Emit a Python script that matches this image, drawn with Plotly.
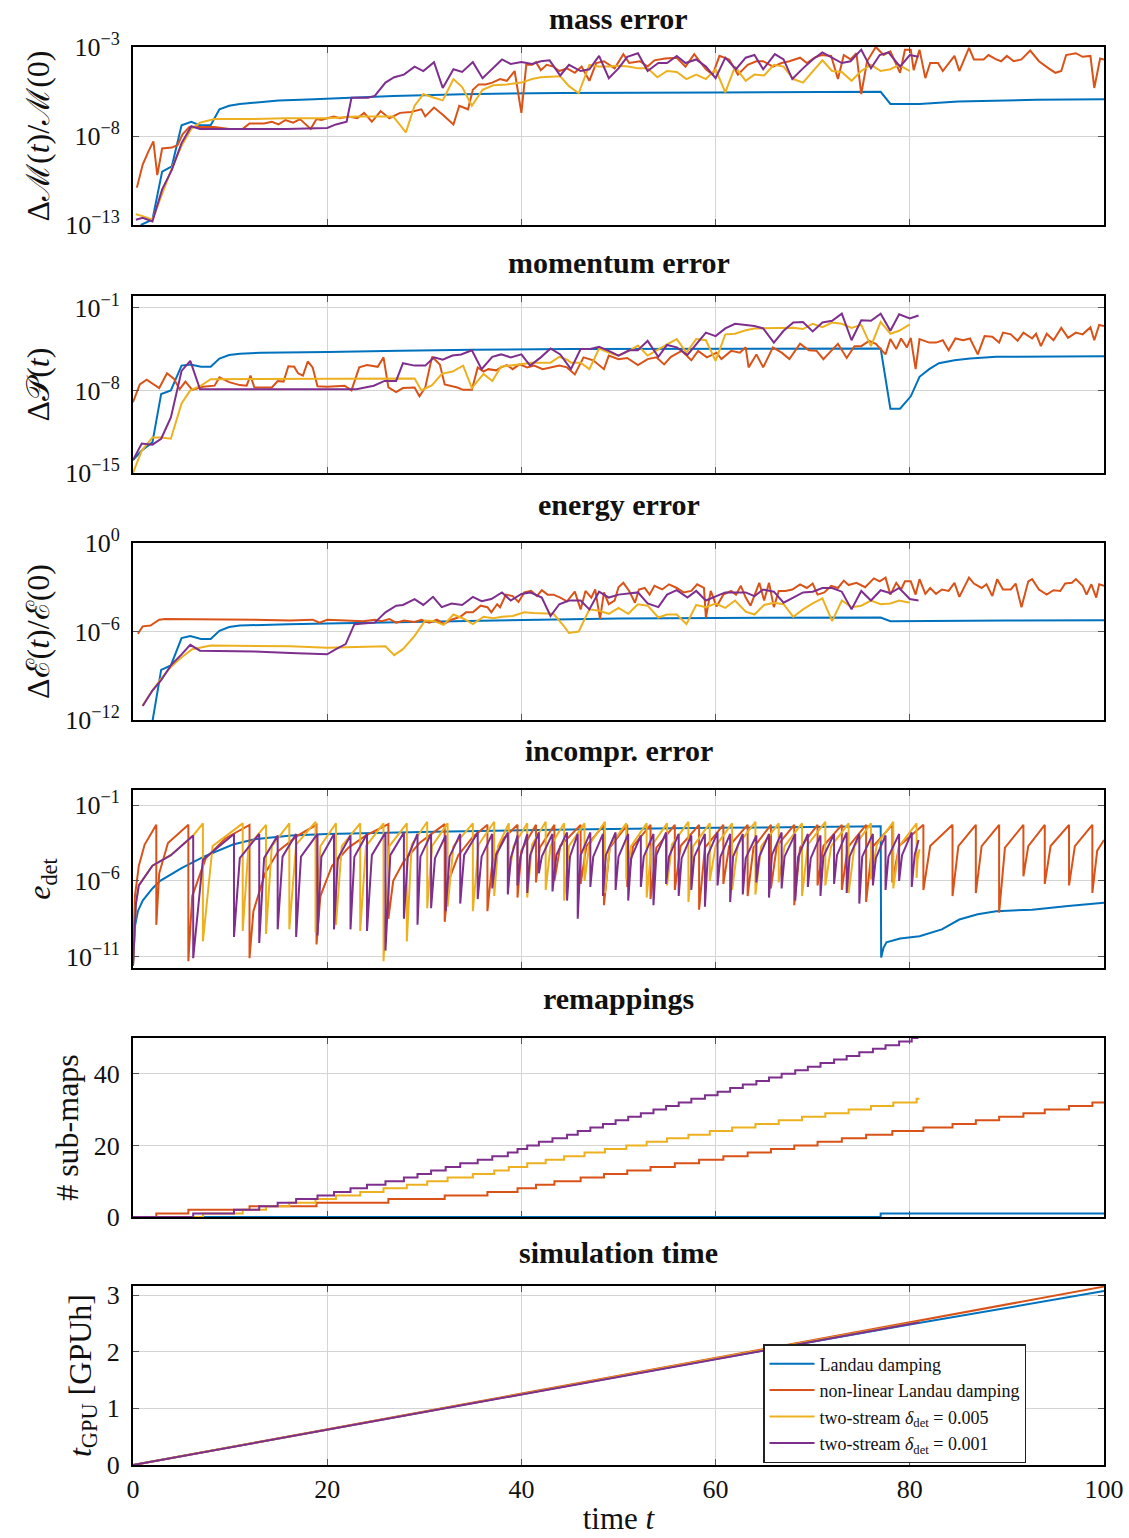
import plotly.graph_objects as go

BLUE = "#0072BD"
ORANGE = "#D95319"
YELLOW = "#EDB120"
PURPLE = "#7E2F8E"
COLORS = [BLUE, ORANGE, YELLOW, PURPLE]
NAMES = ["Landau damping", "non-linear Landau damping",
         "two-stream <i>δ</i><sub>det</sub> = 0.005",
         "two-stream <i>δ</i><sub>det</sub> = 0.001"]

FONT = "Liberation Serif"

# ---------------- mass error: (time, log10 value) ----------------
mass_blue = [(0.8,-13),(2,-12.7),(3,-10),(4,-9.7),(5,-7.4),(6,-7.2),(6.9,-7.4),(8,-7.4),(8.9,-6.5),(9.9,-6.3),
             (11,-6.2),(12.8,-6.1),(15,-6.0),(18,-5.95),(20,-5.9),(23,-5.85),(26.8,-5.75),(34,-5.65),(44,-5.58),
             (60,-5.55),(77,-5.52),(78,-6.2),(81,-6.2),(85,-6.06),(89,-6.0),(93,-5.97),(100,-5.93)]
mass_orange = [(0.4,-10.9),(1,-9.6),(1.6,-8.85),(2.1,-8.3),(2.5,-10.2),(3,-8.7),(4,-8.65),(4.6,-8.5),(5.1,-7.9),
               (5.8,-7.5),(6.9,-7.5),(8.4,-7.5),(9.9,-7.6),(11.3,-7.6),(12,-7.3),(13.5,-7.3),(14.3,-7.2),(15,-7.35),
               (15.7,-7.1),(16.5,-7.25),(17.2,-7.05),(18.3,-7.6),(18.9,-7.05),(19.4,-7.1),(20,-7.0),(20.7,-6.9),
               (21.3,-7.0),(22.2,-6.9),(23.1,-7.0),(23.8,-6.7),(24.6,-7.2),(25.5,-6.6),(26.4,-7.0),(27.5,-6.7),
               (28.6,-6.65),(29.7,-6.5),(30.1,-6.9),(31,-6.4),(31.9,-6.8),(33,-7.35),(33.6,-6.3),(34.5,-6.5),
               (35,-5.4),(35.6,-5.1),(36.3,-5.1),(37,-5.0),(37.8,-4.8),(38.5,-4.9),(39.3,-4.35),(40,-6.7),
               (40.5,-4.0),(41.1,-4.0),(41.5,-3.85),(42,-4.3),(42.6,-4.0),(43.3,-4.1),(43.9,-4.35),(44.7,-4.2),
               (45.5,-4.45),(46.2,-4.1),(47,-4.9),(47.7,-3.9),(48.5,-3.8),(49.6,-4.2),(50.5,-3.4),(51.1,-3.9),
               (52.2,-3.8),(53,-4.1),(53.7,-3.75),(54.8,-3.65),(56,-3.6),(56.9,-4.1),(57.8,-3.4),(59,-4.25),
               (59.7,-4.55),(60.4,-3.5),(61.4,-3.7),(62.3,-4.55),(63.3,-4.0),(64.2,-3.8),(64.9,-3.8),(65.9,-4.1),
               (66.8,-3.9),(67.6,-3.8),(68.7,-3.6),(69.4,-3.9),(70.2,-3.6),(70.9,-3.45),(71.9,-3.5),(72.6,-4.8),
               (73.2,-3.45),(73.9,-3.7),(74.5,-3.35),(75,-5.65),(75.6,-3.8),(76.5,-3.0),(77.3,-3.45),(78,-3.25),
               (79,-4.45),(79.5,-3.15),(80.1,-3.15),(80.4,-4.3),(81,-3.15),(81.6,-4.75),(82.1,-3.9),(82.9,-3.9),
               (83.4,-4.35),(84.6,-3.5),(85.1,-4.35),(86.1,-3.05),(86.6,-3.7),(87.6,-3.7),(88.1,-3.45),(88.9,-3.7),
               (89.4,-3.8),(90,-3.5),(90.7,-3.8),(91.5,-3.7),(92.4,-3.2),(93.3,-3.8),(94.3,-4.2),(95,-4.45),
               (95.6,-4.35),(96.1,-3.45),(97.1,-3.35),(97.8,-3.55),(98.6,-3.5),(99,-5.3),(99.6,-3.65),(100,-3.7)]
mass_yellow = [(0.3,-12.4),(1,-12.5),(2,-12.7),(3,-11.2),(4,-9.8),(5,-8.55),(6,-7.6),(6.9,-7.25),(8.4,-7.05),
               (12,-7.05),(15.7,-7.0),(20,-7.0),(23.1,-6.9),(26.8,-6.9),(28.1,-7.8),(29,-6.3),(29.9,-5.65),
               (31,-5.85),(31.9,-6.0),(33,-4.8),(33.9,-5.25),(34.9,-6.3),(36,-5.4),(37.1,-5.15),(38.5,-5.1),
               (40,-5.0),(41.1,-4.8),(42,-4.7),(43.1,-4.65),(44,-4.65),(44.9,-5.2),(45.9,-5.6),(47,-4.0),
               (47.9,-4.1),(49,-4.1),(50,-4.05),(51,-4.1),(52,-4.2),(53,-4.2),(54,-4.7),(55,-4.35),(56,-4.4),
               (57,-4.8),(58,-4.55),(59,-4.8),(60,-4.25),(61,-5.55),(62,-4.1),(63.1,-4.9),(64,-4.55),(65,-4.6),
               (66,-4.0),(67,-4.1),(68,-4.8),(69,-5.0),(70,-4.35),(71,-3.75),(72,-4.35),(73,-4.4),(74,-4.9),
               (75,-4.35),(76,-4.0),(77,-4.35),(78,-4.25),(78.9,-4.0),(80,-4.35)]
mass_purple = [(0.3,-12.7),(1,-12.6),(2,-12.8),(3,-11.0),(4,-9.9),(5,-8.4),(6,-7.45),(6.9,-7.6),(8.4,-7.6),
               (12,-7.6),(15.7,-7.6),(20,-7.55),(20.9,-7.35),(22,-7.2),(22.5,-5.85),(24.2,-5.85),(24.9,-5.75),
               (26,-5.0),(26.9,-4.7),(27.9,-4.55),(29,-4.1),(29.9,-4.35),(31,-3.85),(31.9,-5.3),(33,-4.25),
               (33.9,-4.4),(35,-3.85),(36,-4.75),(37.1,-4.2),(38,-3.7),(38.9,-3.95),(40,-3.85),(41.1,-3.95),
               (42,-3.8),(42.9,-3.75),(44,-4.6),(44.9,-4.0),(46.1,-4.35),(47,-4.25),(48,-3.5),(49,-4.75),
               (50,-4.2),(50.9,-3.55),(52,-3.35),(53,-4.35),(54.1,-3.9),(55,-3.9),(56,-3.5),(56.9,-3.9),(58,-3.7),
               (59,-4.1),(60,-4.75),(61,-3.6),(62.1,-4.25),(63.1,-3.6),(64,-3.45),(64.9,-4.25),(66.1,-3.4),
               (67,-3.7),(67.9,-4.8),(69,-4.2),(70,-3.7),(71,-3.3),(72,-3.6),(73,-3.9),(73.9,-3.8),(75,-3.15),
               (76,-4.2),(76.9,-3.45),(77.8,-3.3),(79,-4.1),(80,-3.45),(80.9,-3.55)]

# ---------------- momentum error ----------------
mom_blue = [(0,-13.9),(0.9,-13.1),(2,-12.4),(2.9,-8.3),(3.9,-8.0),(5,-5.9),(5.9,-5.8),(7,-6.0),(8,-6.0),(8.9,-5.3),
            (9.9,-5.0),(11,-4.9),(13.2,-4.8),(16.2,-4.75),(20,-4.75),(27.5,-4.65),(35,-4.55),(45,-4.5),(60,-4.5),
            (77,-4.45),(78,-9.55),(79,-9.55),(80.1,-8.5),(81,-6.85),(82,-6.2),(83,-5.7),(84.6,-5.45),(86.2,-5.3),
            (88.9,-5.15),(92.6,-5.12),(100,-5.1)]
mom_orange = [(0,-9.0),(0.7,-7.5),(1.4,-7.1),(2.2,-7.5),(2.7,-7.8),(3.5,-6.55),(4.2,-7.0),(4.8,-7.9),(5.4,-7.25),
              (6.1,-7.95),(7.2,-7.7),(8.4,-7.6),(8.9,-6.9),(9.9,-7.3),(11,-7.55),(11.7,-7.6),(12.1,-6.75),
              (12.5,-7.75),(13.2,-7.75),(14.3,-7.75),(14.9,-7.2),(15.5,-7.25),(16,-5.95),(16.6,-6.0),(17,-6.55),
              (17.5,-6.75),(18,-5.55),(18.5,-6.05),(19,-7.65),(20,-7.7),(21.8,-7.6),(22.5,-8.0),(23.3,-6.05),
              (24.1,-5.85),(25.2,-6.0),(25.8,-5.2),(26.3,-7.75),(27.1,-8.15),(27.8,-7.8),(29,-7.75),(29.5,-8.5),
              (30.1,-7.75),(30.8,-5.15),(31.6,-5.8),(32.1,-7.5),(32.7,-7.6),(33.4,-7.75),(34,-7.95),(34.9,-7.95),
              (35.5,-6.05),(36.1,-6.4),(36.6,-6.2),(37.4,-6.3),(37.9,-6.05),(38.5,-5.85),(39.1,-6.2),(39.8,-5.8),
              (40.6,-6.05),(41.3,-5.9),(42.2,-6.2),(43,-6.05),(43.9,-5.9),(44.7,-6.05),(45.5,-6.65),(46.4,-5.2),
              (47.4,-5.45),(48.5,-6.2),(49,-5.05),(50,-5.35),(50.9,-5.25),(52,-5.85),(53,-5.35),(53.9,-5.2),
              (54.7,-5.8),(55.4,-5.15),(56.5,-4.65),(57.5,-5.45),(58.2,-4.65),(59.1,-5.2),(60.1,-4.8),(60.6,-5.35),
              (61.6,-4.65),(62.5,-4.8),(63.1,-4.35),(63.4,-6.05),(64.2,-4.95),(64.9,-6.05),(65.9,-4.35),(66.8,-4.8),
              (67.6,-5.35),(68.7,-4.05),(69.6,-4.6),(70.4,-4.65),(71.1,-5.35),(71.9,-4.65),(72.6,-4.05),
              (73.5,-5.25),(74.3,-4.25),(75,-4.25),(75.8,-3.8),(76.5,-4.05),(77.5,-4.95),(78,-3.65),(78.6,-4.5),
              (79.1,-3.6),(79.7,-4.35),(80.1,-3.55),(80.6,-6.2),(81,-3.65),(82,-3.95),(82.7,-3.95),(83.4,-3.75),
              (84,-4.6),(84.7,-3.6),(85.5,-3.75),(86.2,-3.6),(87,-4.95),(87.7,-3.4),(88.5,-3.45),(89.2,-3.95),
              (89.6,-3.1),(90.4,-3.25),(91.1,-3.8),(91.7,-3.1),(92.6,-3.6),(93,-3.2),(93.5,-4.25),(94.1,-3.2),
              (94.8,-3.75),(95.6,-2.7),(96.3,-3.55),(97.1,-3.1),(97.8,-3.25),(98.6,-2.65),(99,-3.75),(99.5,-2.45),
              (100,-2.55)]
mom_yellow = [(0,-15),(0.9,-13.1),(2,-12.0),(2.9,-12.0),(3.9,-12.1),(5,-9.1),(5.9,-8.0),(7,-7.6),(8,-7.05),
              (10.6,-7.05),(16.2,-7.05),(23.7,-7.05),(29,-7.0),(29.7,-8.0),(30.8,-7.55),(31.8,-6.6),(32.9,-6.4),
              (34,-5.9),(34.9,-7.8),(36.1,-6.6),(37,-7.2),(37.9,-6.0),(39.1,-5.85),(40.2,-5.7),(41.1,-5.65),
              (42,-5.65),(43,-5.65),(43.9,-5.15),(44.7,-5.4),(45.1,-5.65),(46.1,-5.65),(47,-6.2),(48,-4.45),
              (49,-4.8),(50,-5.05),(51.1,-4.65),(52,-4.2),(53,-5.05),(54.1,-4.5),(55,-4.1),(56,-3.65),(57,-4.8),
              (58,-3.65),(59,-3.75),(60,-5.5),(61,-3.25),(62,-3.2),(63.1,-2.9),(64,-2.75),(65,-2.75),(66,-2.75),
              (67,-2.7),(68,-2.7),(69,-2.8),(70,-2.35),(71,-2.65),(72,-2.25),(73,-2.35),(74,-2.7),(75,-2.45),
              (76,-4.25),(77,-2.2),(78,-3.2),(78.9,-2.95),(80,-2.4)]
mom_purple = [(0,-13.9),(0.9,-12.5),(2,-12.6),(2.9,-12.1),(3.9,-10.3),(5,-6.35),(5.9,-5.5),(6.9,-7.9),(8.7,-7.9),
              (20,-7.9),(23,-7.9),(24.8,-7.6),(25.9,-7.2),(27.1,-7.2),(27.8,-5.7),(29,-5.9),(30.1,-5.9),(31,-5.2),
              (31.9,-5.4),(32.9,-5.05),(33.8,-4.95),(34.9,-4.6),(35.9,-6.2),(37,-5.15),(37.9,-4.95),(38.9,-5.2),
              (40,-4.95),(40.9,-5.9),(42,-5.2),(43,-4.45),(44,-4.95),(45.1,-6.2),(46.1,-4.5),(47,-4.5),(48,-4.3),
              (49,-4.65),(50,-5.05),(51.1,-4.6),(52,-4.6),(53,-3.8),(54.1,-5.15),(55,-4.15),(56,-4.35),(57.1,-5.0),
              (58,-4.1),(59,-3.1),(60,-3.4),(61,-2.75),(62,-2.35),(63.1,-2.45),(64,-2.55),(64.9,-2.75),(66,-3.95),
              (67,-2.95),(68,-2.25),(69,-2.2),(70,-3.0),(71,-2.25),(72,-2.1),(73,-1.5),(74,-3.75),(75,-2.05),
              (76,-2.1),(77,-1.5),(78,-2.95),(78.9,-1.55),(80,-1.9),(80.9,-1.65)]

# ---------------- energy error ----------------
en_blue = [(0.5,-12.2),(2,-12.1),(2.9,-8.6),(3.9,-8.3),(5,-6.45),(5.9,-6.3),(7,-6.5),(8,-6.5),(8.9,-5.95),
           (9.9,-5.7),(11,-5.6),(13,-5.55),(16,-5.5),(20,-5.45),(25,-5.4),(30,-5.35),(40,-5.2),(50,-5.12),
           (60,-5.08),(77,-5.05),(78,-5.3),(80,-5.3),(90,-5.25),(100,-5.23)]
en_orange = [(0.5,-6.15),(1,-5.65),(1.8,-5.6),(2.7,-5.2),(3.3,-5.15),(5,-5.15),(8.7,-5.2),(12.5,-5.2),(16.2,-5.25),
             (18.5,-5.2),(19.2,-5.4),(20,-5.2),(21.9,-5.25),(23.7,-5.3),(24.9,-5.2),(25.6,-5.3),(26.4,-5.15),
             (27.1,-5.4),(27.9,-5.25),(29,-5.35),(29.7,-5.2),(30.5,-5.4),(31.3,-5.2),(32,-5.5),(32.8,-5.2),
             (33.7,-5.0),(34.3,-4.7),(35,-4.7),(35.8,-4.25),(36.5,-4.35),(36.9,-4.7),(37.5,-4.15),(37.8,-4.35),
             (38.4,-3.5),(39.1,-3.6),(39.7,-4.0),(40.3,-3.35),(41,-3.25),(41.6,-3.6),(42.1,-3.2),(42.7,-3.5),
             (43.3,-3.5),(44,-3.7),(44.7,-3.95),(45.5,-3.3),(46.1,-4.5),(46.6,-3.25),(47.2,-3.7),(47.6,-3.15),
             (48.1,-5.15),(48.5,-3.35),(49,-4.15),(49.6,-3.9),(50,-3.0),(50.5,-2.7),(51.1,-3.25),(51.7,-4.05),
             (52.1,-3.15),(52.7,-3.05),(53.2,-3.5),(53.7,-2.9),(54.5,-3.15),(55.2,-2.8),(56,-3.05),(56.7,-3.35),
             (57.5,-3.25),(58.1,-2.8),(58.8,-3.05),(59,-5.05),(59.5,-3.25),(60.1,-4.3),(60.8,-3.5),(61.6,-3.25),
             (62.1,-3.5),(62.6,-2.9),(63.1,-3.7),(63.6,-4.25),(64,-3.6),(64.5,-2.7),(65,-3.9),(65.5,-2.7),
             (66,-4.35),(66.5,-3.25),(67.2,-3.25),(67.9,-3.15),(68.7,-2.8),(69.4,-3.05),(70,-2.75),(70.5,-3.5),
             (71.2,-3.35),(71.9,-2.9),(72.6,-3.05),(73.2,-2.55),(73.7,-2.85),(74.5,-2.7),(75.4,-3.0),(76.3,-2.4),
             (76.9,-2.6),(77.5,-2.35),(78,-3.5),(78.6,-2.7),(79.1,-3.15),(79.5,-2.6),(80.1,-2.6),(80.6,-3.5),
             (81,-2.45),(81.6,-3.45),(82.1,-3.05),(82.7,-3.45),(83.3,-3.15),(84,-3.25),(84.6,-2.7),(85.1,-3.65),
             (86.1,-2.35),(86.6,-2.75),(87.4,-3.05),(87.9,-2.8),(88.5,-3.6),(89,-2.45),(89.6,-3.15),(90.4,-3.15),
             (90.9,-2.75),(91.5,-4.35),(92.2,-2.6),(92.6,-2.45),(93.3,-3.15),(94.1,-3.5),(94.8,-3.2),(95.5,-3.25),
             (96,-2.75),(96.7,-2.7),(97.1,-2.45),(97.8,-2.9),(98.2,-3.5),(98.7,-2.8),(99.2,-3.7),(99.5,-2.8),
             (100,-2.9)]
en_yellow = [(1,-11.0),(2,-10.0),(2.9,-9.2),(3.9,-8.4),(5,-7.75),(6.1,-7.2),(8,-6.95),(12.5,-6.95),(16.2,-7.0),
             (20,-7.1),(23.7,-7.05),(26,-7.0),(26.9,-7.6),(27.8,-7.2),(29,-6.3),(30.1,-5.25),(31,-5.3),(32,-5.55),
             (33,-4.85),(34.1,-5.15),(35,-5.5),(36.1,-5.0),(37.1,-5.1),(38,-5.0),(39.1,-4.95),(40.3,-4.7),
             (41.2,-4.75),(42.3,-4.8),(43.3,-4.8),(44.4,-5.65),(44.9,-6.1),(45.9,-6.0),(47,-4.5),(48,-4.6),
             (49,-4.8),(50,-4.4),(51,-4.8),(52,-4.15),(53,-4.25),(54.1,-5.05),(55,-4.85),(56,-4.85),(57,-5.5),
             (58,-4.2),(59,-4.35),(60,-4.1),(61,-4.4),(62,-3.9),(63.1,-4.65),(64,-4.85),(65,-4.2),(66,-4.05),
             (67,-4.15),(68,-5.0),(69,-4.5),(70,-4.1),(71,-3.75),(72,-5.3),(73,-3.9),(74,-4.35),(75,-4.25),
             (76,-3.9),(77,-4.15),(78,-4.1),(78.9,-3.9),(80,-4.05)]
en_purple = [(1,-11.05),(2,-10.0),(2.9,-9.3),(3.9,-8.3),(5,-7.55),(5.9,-6.9),(6.9,-7.3),(8.7,-7.3),(12.5,-7.35),
             (16.2,-7.45),(20,-7.55),(20.9,-7.2),(21.9,-6.85),(22.8,-5.5),(24.9,-5.4),(26,-4.7),(27.1,-4.25),
             (27.8,-4.2),(29,-3.8),(29.9,-4.2),(30.9,-3.65),(31.8,-4.35),(32.8,-4.1),(33.9,-4.2),(35,-3.65),
             (35.9,-3.95),(36.9,-3.8),(38,-3.35),(38.9,-3.9),(40,-3.45),(40.9,-3.35),(42.1,-3.7),(43,-4.95),
             (43.9,-4.15),(44.9,-3.9),(46.1,-3.9),(47,-4.5),(48,-3.3),(49,-3.7),(50,-3.5),(51,-3.45),(52,-3.35),
             (53,-4.1),(54.1,-4.35),(55,-3.5),(56,-3.2),(57.1,-3.7),(58,-3.25),(59,-3.9),(60,-3.6),(61,-3.35),
             (62,-3.35),(63.1,-3.35),(64,-3.6),(64.9,-3.15),(66,-3.3),(67,-4.05),(68,-3.7),(69,-3.35),(70,-3.3),
             (71,-3.05),(72,-3.05),(73,-3.3),(74,-4.5),(75,-3.25),(76,-3.9),(77,-3.2),(78,-3.4),(78.9,-3.05),
             (80,-3.8),(80.9,-3.9)]

# ---------------- incompressibility error ----------------
inc_blue = [(0,-11.6),(0.2,-9.0),(0.5,-8.0),(1.0,-7.3),(2.0,-6.5),(2.8,-6.0),(5.0,-5.15),(7.3,-4.4),(10.3,-3.6),
            (12.5,-3.25),(16.3,-3.0),(20,-2.9),(31,-2.75),(45,-2.6),(60,-2.5),(77.0,-2.4),(77.05,-11.05),
            (77.3,-10.4),(77.6,-10.05),(79,-9.8),(81,-9.65),(83.3,-9.2),(85.1,-8.55),(87,-8.2),(88.9,-8.0),
            (92.6,-7.9),(96.3,-7.65),(100,-7.45)]
# rows: (reset time, trough, [(t, value) points of the rise], value just before the next reset)
inc_orange = [
    (0.0, -11.6, [(0.2, -7.0), (0.6, -5.0), (1.2, -3.6)], -2.3),
    (2.4, -8.9, [(2.7, -5.5), (3.6, -3.5)], -2.3),
    (5.7, -11.3, [(6.1, -7.0), (7.5, -4.5), (9.5, -3.2)], -2.3),
    (12.0, -11.1, [(12.4, -8.0), (13.6, -5.5), (15.0, -4.0), (17.0, -3.0)], -2.3),
    (18.9, -10.2, [(19.3, -7.0), (20.5, -5.0), (22.2, -3.8), (24.0, -3.0)], -2.25),
    (26.3, -8.5, [(26.8, -6.0), (27.8, -4.8), (29.5, -3.5)], -2.25),
    (32.1, -8.7, [(32.5, -6.0), (33.5, -4.3), (35.0, -3.1)], -2.3),
    (36.5, -8.0, [(37.0, -4.8), (38.0, -3.3)], -2.3),
    (39.6, -7.1, [(40.0, -4.0)], -2.3),
    (41.5, -6.1, [(41.9, -3.8)], -2.3),
    (43.4, -6.0, [(44.0, -3.7)], -2.3),
    (46.1, -6.2, [(46.7, -3.7)], -2.3),
    (48.5, -7.6, [(49.1, -3.8)], -2.3),
    (50.9, -6.4, [(51.5, -3.7)], -2.3),
    (53.3, -7.2, [(53.9, -3.8)], -2.3),
    (55.8, -6.6, [(56.4, -3.7)], -2.3),
    (58.3, -7.9, [(58.9, -3.8)], -2.3),
    (60.8, -6.2, [(61.4, -3.7)], -2.3),
    (63.3, -7.0, [(63.9, -3.8)], -2.3),
    (65.7, -6.5, [(66.3, -3.7)], -2.3),
    (68.1, -7.6, [(68.7, -3.8)], -2.3),
    (70.5, -6.3, [(71.1, -3.7)], -2.3),
    (73.0, -6.6, [(73.6, -3.8)], -2.3),
    (75.5, -7.4, [(76.1, -3.8)], -2.3),
    (78.2, -6.1, [(78.9, -3.7)], -2.3),
    (81.4, -6.6, [(82.1, -3.7)], -2.3),
    (84.4, -7.0, [(85.0, -3.7)], -2.3),
    (86.8, -6.8, [(87.4, -3.7)], -2.3),
    (89.2, -8.1, [(89.8, -3.8)], -2.3),
    (91.7, -5.7, [(92.2, -3.7)], -2.3),
    (93.9, -6.2, [(94.5, -3.7)], -2.3),
    (96.4, -6.3, [(97.0, -3.7)], -2.3),
    (98.8, -6.8, [(99.3, -4.0)], -3.3),
]
inc_orange_end = 100.0
inc_yellow = [
    (0.0, -11.6, [(0.3, -7.5), (0.6, -6.3), (2.0, -5.0), (3.9, -4.3), (6.2, -3.0)], -2.2),
    (7.2, -10.0, [(8.2, -3.7)], -2.2),
    (11.3, -9.3, [(11.9, -3.7)], -2.3),
    (13.7, -9.5, [(14.3, -3.7)], -2.2),
    (16.1, -9.2, [(16.8, -3.6)], -2.1),
    (18.8, -9.4, [(19.3, -3.7)], -2.2),
    (20.9, -8.9, [(21.5, -3.7)], -2.2),
    (23.4, -9.3, [(24.0, -3.7)], -2.2),
    (25.8, -11.3, [(26.4, -3.7)], -2.2),
    (28.2, -10.0, [(28.7, -3.6)], -2.1),
    (30.3, -7.8, [(30.8, -3.7)], -2.2),
    (32.4, -7.7, [(33.0, -3.7)], -2.2),
    (35.0, -8.0, [(35.6, -3.6)], -2.1),
    (37.2, -7.0, [(37.6, -3.7)], -2.2),
    (38.7, -5.7, [(39.2, -3.7)], -2.2),
    (40.6, -7.1, [(41.1, -3.6)], -2.1),
    (42.5, -6.6, [(43.0, -3.7)], -2.2),
    (44.4, -7.3, [(44.9, -3.7)], -2.2),
    (46.5, -6.0, [(47.0, -3.6)], -2.1),
    (48.6, -6.8, [(49.1, -3.7)], -2.2),
    (50.8, -5.9, [(51.3, -3.7)], -2.2),
    (52.9, -7.1, [(53.4, -3.7)], -2.2),
    (55.0, -6.3, [(55.5, -3.6)], -2.1),
    (57.2, -7.4, [(57.7, -3.7)], -2.2),
    (59.4, -6.0, [(60.0, -3.7)], -2.2),
    (61.7, -6.6, [(62.3, -3.6)], -2.1),
    (64.1, -6.9, [(64.7, -3.7)], -2.2),
    (66.5, -6.1, [(67.1, -3.7)], -2.2),
    (68.9, -7.0, [(69.5, -3.6)], -2.1),
    (71.3, -6.3, [(71.9, -3.7)], -2.2),
    (73.7, -6.8, [(74.3, -3.7)], -2.2),
    (76.0, -5.9, [(76.6, -3.6)], -2.1),
    (78.3, -6.5, [(78.9, -3.7)], -2.2),
    (80.7, -5.8, [(80.8, -4.6)], -3.9),
]
inc_yellow_end = 81.0
inc_purple = [
    (0.0, -11.6, [(0.3, -7.5), (0.6, -6.3), (2.0, -5.0), (3.9, -4.3)], -3.0),
    (6.2, -11.1, [(7.2, -4.6)], -2.9),
    (10.4, -9.7, [(11.0, -4.5)], -2.9),
    (13.0, -10.1, [(13.5, -4.5)], -3.0),
    (14.9, -9.2, [(15.4, -4.4)], -2.9),
    (16.8, -9.7, [(17.3, -4.4)], -2.9),
    (19.0, -9.6, [(19.4, -4.4)], -2.9),
    (20.7, -9.2, [(21.1, -4.5)], -3.0),
    (22.4, -9.2, [(22.8, -4.4)], -2.9),
    (24.1, -9.3, [(24.6, -4.3)], -2.8),
    (26.0, -10.6, [(26.5, -4.3)], -2.8),
    (27.9, -8.5, [(28.3, -4.4)], -2.9),
    (29.3, -8.9, [(29.6, -4.4)], -2.9),
    (30.7, -7.8, [(31.1, -4.5)], -3.0),
    (32.2, -8.0, [(32.6, -4.4)], -2.9),
    (33.7, -7.5, [(34.1, -4.3)], -2.8),
    (35.5, -7.2, [(35.9, -4.4)], -2.9),
    (37.0, -6.5, [(37.4, -4.3)], -2.8),
    (38.6, -6.9, [(38.9, -4.5)], -3.0),
    (39.6, -6.3, [(39.9, -4.4)], -2.9),
    (40.6, -6.8, [(40.9, -4.3)], -2.8),
    (41.8, -5.5, [(42.1, -4.4)], -2.9),
    (43.2, -6.7, [(43.6, -4.3)], -2.8),
    (44.7, -7.3, [(45.0, -4.4)], -2.9),
    (45.8, -8.5, [(46.1, -4.3)], -2.8),
    (47.1, -6.4, [(47.4, -4.4)], -2.9),
    (48.4, -7.0, [(48.7, -4.3)], -2.8),
    (49.7, -6.6, [(50.0, -4.4)], -2.9),
    (51.0, -7.3, [(51.3, -4.5)], -3.0),
    (52.3, -6.4, [(52.6, -4.4)], -2.9),
    (53.6, -7.6, [(53.9, -4.3)], -2.8),
    (54.9, -6.2, [(55.2, -4.4)], -2.9),
    (56.2, -7.0, [(56.5, -4.5)], -3.0),
    (57.5, -6.6, [(57.8, -4.4)], -2.9),
    (58.9, -7.7, [(59.2, -4.3)], -2.8),
    (60.2, -6.3, [(60.5, -4.4)], -2.9),
    (61.5, -7.4, [(61.8, -4.4)], -2.9),
    (62.8, -6.9, [(63.1, -4.5)], -3.0),
    (64.2, -6.1, [(64.5, -4.4)], -2.9),
    (65.5, -7.1, [(65.8, -4.3)], -2.8),
    (66.8, -6.5, [(67.1, -4.4)], -2.9),
    (68.2, -7.3, [(68.5, -4.4)], -2.9),
    (69.5, -6.4, [(69.8, -4.5)], -3.0),
    (70.8, -7.0, [(71.1, -4.4)], -2.9),
    (72.2, -6.2, [(72.5, -4.3)], -2.8),
    (73.5, -6.8, [(73.8, -4.4)], -2.9),
    (74.8, -7.5, [(75.1, -4.4)], -2.9),
    (76.2, -6.3, [(76.5, -4.5)], -3.0),
    (77.5, -6.6, [(77.8, -4.4)], -2.9),
    (78.9, -6.0, [(79.2, -4.3)], -2.8),
    (80.2, -6.4, [(80.5, -4.3)], -3.3),
]
inc_purple_end = 80.9

# ---------------- remappings (times at which a new sub-map is started) ----------------
remap_blue = [77.0]
remap_blue_end = 100.0
remap_orange = [2.4, 5.7, 12.0, 18.9, 26.3, 32.1, 36.5, 39.6, 41.5, 43.4, 46.1, 48.5, 50.9, 53.3, 55.8, 58.3,
                60.8, 63.3, 65.7, 68.1, 70.5, 73.0, 75.5, 78.2, 81.4, 84.4, 86.8, 89.2, 91.7, 93.9, 96.4, 98.8]
remap_orange_end = 100.0
remap_yellow = [7.2, 11.3, 13.7, 16.1, 18.8, 20.9, 23.4, 25.8, 28.2, 30.3, 32.4, 35.0, 37.2, 38.7, 40.6, 42.5,
                44.4, 46.5, 48.6, 50.8, 52.9, 55.0, 57.2, 59.4, 61.7, 64.1, 66.5, 68.9, 71.3, 73.7, 76.0, 78.3, 80.7]
remap_yellow_end = 81.0
remap_purple = [6.2, 10.4, 13.0, 14.9, 16.8, 19.0, 20.7, 22.4, 24.1, 26.0, 27.9, 29.3, 30.7, 32.2, 33.7, 35.5,
                37.0, 38.6, 39.6, 40.6, 41.8, 43.2, 44.7, 45.8, 47.1, 48.4, 49.7, 51.0, 52.3, 53.6, 54.9, 56.2,
                57.5, 58.9, 60.2, 61.5, 62.8, 64.2, 65.5, 66.8, 68.2, 69.5, 70.8, 72.2, 73.5, 74.8, 76.2, 77.5,
                78.9, 80.2]
remap_purple_end = 80.9

# ---------------- simulation time [GPUh] ----------------
sim_t_long = [0, 20, 40, 60, 80, 100]
sim_t_short = [0, 20, 40, 60, 81]
sim_blue = [0, 0.63, 1.25, 1.87, 2.48, 3.07]
sim_orange = [0, 0.63, 1.26, 1.89, 2.52, 3.15]
sim_yellow = [0, 0.62, 1.25, 1.88, 2.53]
sim_purple = [0, 0.62, 1.24, 1.87, 2.52]


def unzip_log(pairs):
    return [p[0] for p in pairs], [10 ** p[1] for p in pairs]


def expand_teeth(rows, end_t):
    xs, ys = [], []
    for i, (s, tr, rise, pk) in enumerate(rows):
        xs.append(s)
        ys.append(tr)
        for t, v in rise:
            xs.append(t)
            ys.append(v)
        nxt = rows[i + 1][0] if i + 1 < len(rows) else end_t
        xs.append(nxt)
        ys.append(pk)
    return xs, [10 ** v for v in ys]


def steps(times, end_t):
    xs = [0.0] + list(times) + [end_t]
    ys = [0] + list(range(1, len(times) + 1)) + [len(times)]
    return xs, ys


fig = go.Figure()

panels = [
    [unzip_log(mass_blue), unzip_log(mass_orange), unzip_log(mass_yellow), unzip_log(mass_purple)],
    [unzip_log(mom_blue), unzip_log(mom_orange), unzip_log(mom_yellow), unzip_log(mom_purple)],
    [unzip_log(en_blue), unzip_log(en_orange), unzip_log(en_yellow), unzip_log(en_purple)],
    [unzip_log(inc_blue), expand_teeth(inc_orange, inc_orange_end),
     expand_teeth(inc_yellow, inc_yellow_end), expand_teeth(inc_purple, inc_purple_end)],
    [steps(remap_blue, remap_blue_end), steps(remap_orange, remap_orange_end),
     steps(remap_yellow, remap_yellow_end), steps(remap_purple, remap_purple_end)],
    [(sim_t_long, sim_blue), (sim_t_long, sim_orange), (sim_t_short, sim_yellow), (sim_t_short, sim_purple)],
]

for k, series in enumerate(panels):
    ax = "" if k == 0 else str(k + 1)
    for j, (xs, ys) in enumerate(series):
        fig.add_trace(go.Scatter(
            x=xs, y=ys, mode="lines",
            line=dict(color=COLORS[j], width=2, shape="hv" if k == 4 else "linear"),
            name=NAMES[j], showlegend=(k == 5), legendgroup=NAMES[j],
            xaxis="x" + ax, yaxis="y" + ax, hoverinfo="skip"))

H = 1538.0
# panel pixel extents (top, bottom)
boxes = [(47, 225), (296, 473), (543, 720), (790, 968), (1038, 1217), (1286, 1465)]
titles = ["mass error", "momentum error", "energy error", "incompr. error", "remappings", "simulation time"]
title_y = [18, 262, 504, 750, 998, 1252]


def pw(e):
    return "10<sup>\u2212" + str(-e) + "</sup>" if e < 0 else "10<sup>" + str(e) + "</sup>"


yspecs = [
    dict(type="log", range=[-13, -3], tickvals=[1e-13, 1e-8, 1e-3], ticktext=[pw(-13), pw(-8), pw(-3)],
         title="Δℳ(<i>t</i>)/ℳ(0)"),
    dict(type="log", range=[-15, 0], tickvals=[1e-15, 1e-8, 1e-1], ticktext=[pw(-15), pw(-8), pw(-1)],
         title="Δ𝒫(<i>t</i>)"),
    dict(type="log", range=[-12, 0], tickvals=[1e-12, 1e-6, 1], ticktext=[pw(-12), pw(-6), pw(0)],
         title="Δℰ(<i>t</i>)/ℰ(0)"),
    dict(type="log", range=[-11.75, 0], tickvals=[1e-11, 1e-6, 1e-1], ticktext=[pw(-11), pw(-6), pw(-1)],
         title="<i>e</i><sub>det</sub>"),
    dict(type="linear", range=[0, 50], tickvals=[0, 20, 40], ticktext=["0", "20", "40"],
         title="# sub-maps"),
    dict(type="linear", range=[0, 3.16], tickvals=[0, 1, 2, 3], ticktext=["0", "1", "2", "3"],
         title="<i>t</i><sub>GPU</sub> [GPUh]"),
]

common = dict(showline=True, mirror="ticks", linecolor="black", linewidth=2,
              ticks="inside", ticklen=6, tickwidth=1, tickcolor="#555555",
              showgrid=True, gridcolor="#d4d4d4", gridwidth=1, zeroline=False, automargin=False,
              tickfont=dict(family=FONT, size=26, color="#111111"))

layout = dict(width=1129, height=1538, margin=dict(l=133, r=25, t=0, b=0, autoexpand=False),
              paper_bgcolor="white", plot_bgcolor="white",
              font=dict(family=FONT, color="#111111"))
annotations = []
for k in range(6):
    ax = "" if k == 0 else str(k + 1)
    top, bot = boxes[k]
    spec = yspecs[k]
    xa = dict(common, domain=[0, 1], range=[0, 100], tickvals=[0, 20, 40, 60, 80, 100],
              ticktext=["0", "20", "40", "60", "80", "100"],
              showticklabels=(k == 5), anchor="y" + ax)
    if k == 5:
        xa["title"] = dict(text="time <i>t</i>", font=dict(family=FONT, size=31), standoff=4)
    layout["xaxis" + ax] = xa
    layout["yaxis" + ax] = dict(common, domain=[1 - bot / H, 1 - top / H], type=spec["type"],
                                range=spec["range"], tickvals=spec["tickvals"], ticktext=spec["ticktext"],
                                anchor="x" + ax, ticklabelstandoff=6,
                                title=dict(text=spec["title"], font=dict(family=FONT, size=32), standoff=6))
    annotations.append(dict(text="<b>" + titles[k] + "</b>", x=0.5, xref="paper", y=1 - title_y[k] / H,
                            yref="paper", xanchor="center", yanchor="middle", showarrow=False,
                            font=dict(family=FONT, size=30, color="#111111")))

layout["annotations"] = annotations
layout["legend"] = dict(x=(763 - 133) / 971.0, y=1 - 1344 / H, xanchor="left", yanchor="top",
                        bgcolor="white", bordercolor="#222222", borderwidth=1.5, itemwidth=45,
                        font=dict(family=FONT, size=18, color="#111111"), tracegroupgap=0)
fig.update_layout(**layout)

fig.write_html("out.html", config={"displayModeBar": False},
               post_script="document.body.style.margin='0';document.body.style.overflow='hidden';")
